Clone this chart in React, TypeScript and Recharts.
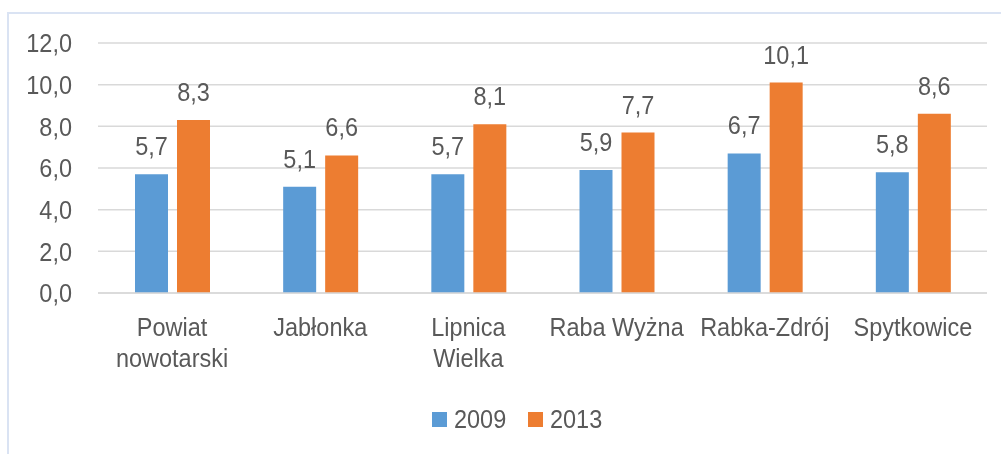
import React from "react";
import { BarChart, Bar, XAxis, YAxis, CartesianGrid, LabelList, Legend } from "recharts";

const categories = ["Powiat\nnowotarski", "Jabłonka", "Lipnica\nWielka", "Raba Wyżna", "Rabka-Zdrój", "Spytkowice"];
const values2009 = [5.7, 5.1, 5.7, 5.9, 6.7, 5.8];
const values2013 = [8.3, 6.6, 8.1, 7.7, 10.1, 8.6];
const yTicks = [0, 2, 4, 6, 8, 10, 12];
const seriesNames = ["2009", "2013"];
const seriesColors = ["#5B9BD5", "#ED7D31"];

const data = categories.map((c, i) => ({ name: c, v2009: values2009[i], v2013: values2013[i] }));

const FONT = "'Liberation Sans', Arial, sans-serif";
const TEXT = "#595959";
const FS = 23.5;
const SY = 1.1;

const fmt = (v: any) => Number(v).toFixed(1).replace(".", ",");

// text stretched vertically around its baseline
const SText = ({ x, y, anchor, children }: any) => (
  <text
    x={x}
    y={y}
    textAnchor={anchor}
    fill={TEXT}
    fontSize={FS}
    fontFamily={FONT}
    transform={`translate(0 ${y}) scale(1 ${SY}) translate(0 ${-y})`}
  >
    {children}
  </text>
);

const CategoryTick = (props: any) => {
  const { x, y, payload } = props;
  const lines = String(payload.value).split("\n");
  return (
    <g>
      {lines.map((l: string, i: number) => (
        <SText key={i} x={x} y={y + 43 + i * 31} anchor="middle">
          {l}
        </SText>
      ))}
    </g>
  );
};

const ValueTick = (props: any) => {
  const { x, y, payload } = props;
  return (
    <SText x={x} y={y + 0.358 * FS * SY} anchor="end">
      {fmt(payload.value)}
    </SText>
  );
};

const ValueLabel = (props: any) => {
  const { x, y, width, value } = props;
  return (
    <SText x={x + width / 2} y={y - 19} anchor="middle">
      {fmt(value)}
    </SText>
  );
};

const LegendContent = () => (
  <svg width={200} height={30} style={{ display: "block", overflow: "visible" }}>
    {seriesNames.map((n, i) => (
      <g key={n}>
        <rect x={i * 96} y={6} width={15} height={15} fill={seriesColors[i]} />
        <SText x={i * 96 + 22} y={22} anchor="start">
          {n}
        </SText>
      </g>
    ))}
  </svg>
);

export default function App() {
  return (
    <div style={{ position: "relative", width: 985, height: 438 }}>
      <div
        style={{
          position: "fixed",
          left: 7,
          top: 12,
          width: 1100,
          height: 700,
          border: "2px solid #DAE3F3",
          boxSizing: "border-box",
        }}
      />
      <div style={{ position: "absolute", left: 0, top: 0 }}>
        <BarChart
          width={985}
          height={438}
          data={data}
          margin={{ top: 35, right: 6, left: 0, bottom: 53 }}
          barSize={33}
          barGap={9}
        >
          <CartesianGrid vertical={false} stroke="#D9D9D9" strokeWidth={1.5} />
          <XAxis
            dataKey="name"
            height={100}
            tickLine={false}
            tickSize={0}
            tickMargin={0}
            axisLine={{ stroke: "#D9D9D9", strokeWidth: 1.5 }}
            tick={<CategoryTick />}
            interval={0}
          />
          <YAxis
            width={90}
            domain={[0, 12]}
            ticks={yTicks}
            axisLine={false}
            tickLine={false}
            tickSize={0}
            tickMargin={26}
            tick={<ValueTick />}
          />
          <Legend
            layout="vertical"
            align="center"
            verticalAlign="middle"
            wrapperStyle={{ left: 424, top: 398, width: 200, height: 30 }}
            content={<LegendContent />}
          />
          <Bar dataKey="v2009" name={seriesNames[0]} fill={seriesColors[0]} isAnimationActive={false}>
            <LabelList dataKey="v2009" content={<ValueLabel />} />
          </Bar>
          <Bar dataKey="v2013" name={seriesNames[1]} fill={seriesColors[1]} isAnimationActive={false}>
            <LabelList dataKey="v2013" content={<ValueLabel />} />
          </Bar>
        </BarChart>
      </div>
    </div>
  );
}
